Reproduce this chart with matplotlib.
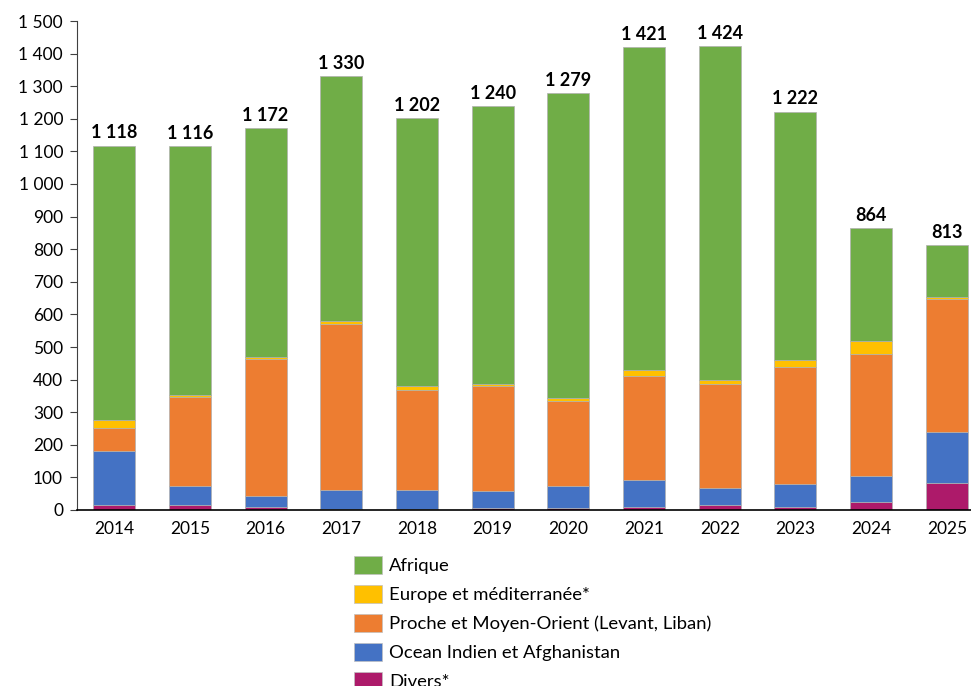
import matplotlib
matplotlib.use("Agg")
import matplotlib.pyplot as plt
from matplotlib.patches import Patch
import numpy as np

plt.rcParams['font.family'] = ['Lato', 'DejaVu Sans']

# Données (de bas en haut)
annees = ['2014', '2015', '2016', '2017', '2018', '2019', '2020', '2021', '2022', '2023', '2024', '2025']
totaux = [1118, 1116, 1172, 1330, 1202, 1240, 1279, 1421, 1424, 1222, 864, 813]
divers = [15, 16, 9, 4, 3, 6, 6, 9, 14, 9, 25, 83]
ocean_indien = [167, 58, 33, 58, 58, 51, 68, 82, 53, 72, 78, 156]
proche_orient = [69, 274, 422, 509, 308, 323, 261, 321, 319, 357, 376, 408]
europe = [24, 4, 5, 9, 12, 7, 10, 17, 14, 22, 39, 6]
afrique = [t - d - o - p - e for t, d, o, p, e in
           zip(totaux, divers, ocean_indien, proche_orient, europe)]

series = [
    ("Divers*", divers, '#AD1A6A'),
    ("Ocean Indien et Afghanistan", ocean_indien, '#4472C4'),
    ("Proche et Moyen-Orient (Levant, Liban)", proche_orient, '#ED7D31'),
    ("Europe et méditerranée*", europe, '#FFC000'),
    ("Afrique", afrique, '#70AD47'),
]

fig = plt.figure(figsize=(9.71, 6.86), dpi=100)
ax = fig.add_axes([77 / 971, 176 / 686, 907 / 971, 489 / 686])

x = np.arange(len(annees))
bas = np.zeros(len(annees))
for nom, valeurs, couleur in series:
    ax.bar(x, valeurs, bottom=bas, width=0.555, color=couleur,
           edgecolor='#b0b0b0', linewidth=0.5)
    bas += np.array(valeurs)

for xi, t in zip(x, totaux):
    ax.annotate(f"{t:,}".replace(",", " "), (xi, t), xytext=(0, 3),
                textcoords='offset points', ha='center', va='bottom',
                fontsize=13, fontweight='bold')

ax.set_xlim(-0.49, len(annees) - 0.51)
ax.set_ylim(0, 1500)
ax.set_yticks(range(0, 1501, 100))
ax.set_yticklabels([f"{v:,}".replace(",", " ") for v in range(0, 1501, 100)])
ax.set_xticks(x)
ax.set_xticklabels(annees)
ax.tick_params(axis='y', labelsize=12.5, length=5, color='#404040', pad=5)
ax.tick_params(axis='x', labelsize=12.5, length=0, pad=8)
for s in ['top', 'right']:
    ax.spines[s].set_visible(False)
ax.spines['left'].set_color('#404040')
ax.spines['bottom'].set_color('black')
ax.spines['bottom'].set_linewidth(1.2)

poignees = [Patch(facecolor=c, edgecolor='#c0c0c0', linewidth=0.5, label=n)
            for n, v, c in reversed(series)]
fig.legend(handles=poignees, loc='upper left',
           bbox_to_anchor=(354 / 971, 1 - 556 / 686), frameon=False,
           fontsize=13.3, handlelength=1.5, handleheight=1.15,
           handletextpad=0.4, labelspacing=0.57, borderpad=0, borderaxespad=0)

fig.savefig("out.png", dpi=100)
